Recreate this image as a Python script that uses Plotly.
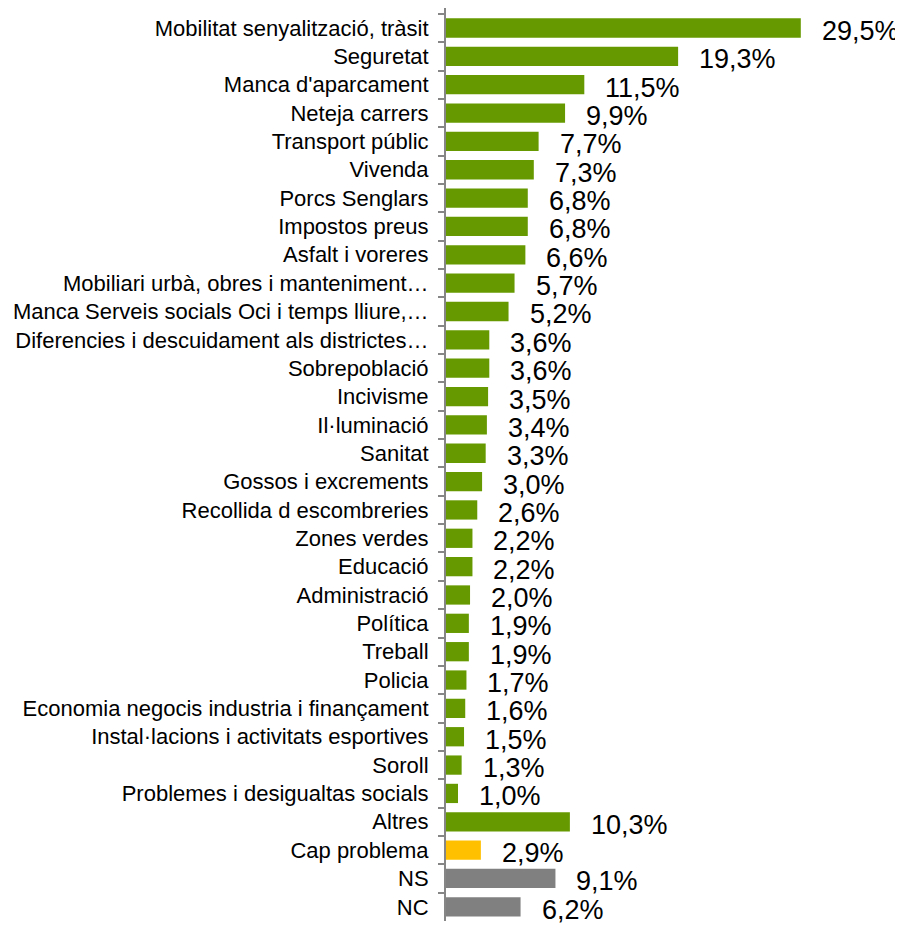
import plotly.graph_objects as go

categories = [
    "Mobilitat senyalització, tràsit", "Seguretat", "Manca d'aparcament",
    "Neteja carrers", "Transport públic", "Vivenda", "Porcs Senglars",
    "Impostos preus", "Asfalt i voreres", "Mobiliari urbà, obres i manteniment…",
    "Manca Serveis socials Oci i temps lliure,…",
    "Diferencies i descuidament als districtes…", "Sobrepoblació", "Incivisme",
    "Il·luminació", "Sanitat", "Gossos i excrements", "Recollida d escombreries",
    "Zones verdes", "Educació", "Administració", "Política", "Treball", "Policia",
    "Economia negocis industria i finançament", "Instal·lacions i activitats esportives",
    "Soroll", "Problemes i desigualtas socials", "Altres", "Cap problema", "NS", "NC",
]
values = [29.5, 19.3, 11.5, 9.9, 7.7, 7.3, 6.8, 6.8, 6.6, 5.7, 5.2, 3.6, 3.6, 3.5,
          3.4, 3.3, 3.0, 2.6, 2.2, 2.2, 2.0, 1.9, 1.9, 1.7, 1.6, 1.5, 1.3, 1.0,
          10.3, 2.9, 9.1, 6.2]
groups = ["problem"] * 29 + ["none", "ns", "ns"]
group_colors = {"problem": "#669900", "none": "#FFC000", "ns": "#808080"}
colors = [group_colors[g] for g in groups]
labels = [f"{v:.1f}".replace(".", ",") + "%" for v in values]

fig = go.Figure()
fig.add_trace(go.Bar(
    x=values, y=categories, orientation="h",
    marker=dict(color=colors, line=dict(width=0)),
    hoverinfo="skip",
))

for v, c, t in zip(values, categories, labels):
    fig.add_annotation(
        x=v, y=c, text=t, showarrow=False, xanchor="left", yanchor="middle",
        xshift=19, yshift=-3,
        font=dict(family="Liberation Sans, Arial, sans-serif", size=27, color="black"),
    )

fig.update_layout(
    width=895, height=918,
    margin=dict(l=438, r=12, t=0, b=5),
    paper_bgcolor="white", plot_bgcolor="white",
    bargap=0.32, showlegend=False,
    font=dict(family="Liberation Sans, Arial, sans-serif", color="black"),
)
fig.update_xaxes(range=[0, 37], visible=False, showgrid=False, zeroline=False)
fig.update_yaxes(
    autorange="reversed", automargin=False,
    showline=True, linecolor="#868686", linewidth=2,
    ticks="outside", tickson="boundaries", ticklen=6, tickcolor="#868686", tickwidth=2,
    ticklabelstandoff=11,
    tickfont=dict(size=22, color="black", family="Liberation Sans, Arial, sans-serif"),
    showgrid=False,
)

fig.write_html("out.html")
